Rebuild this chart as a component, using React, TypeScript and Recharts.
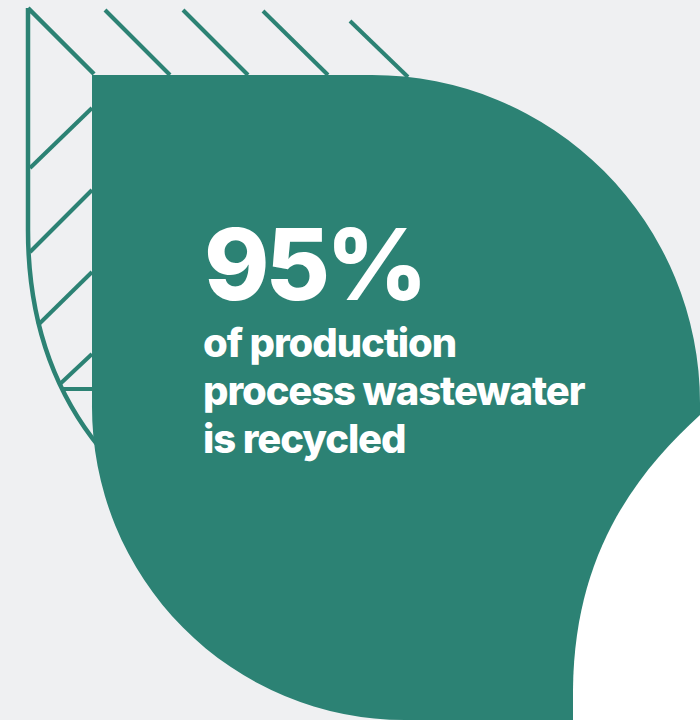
import { ComposedChart, XAxis, YAxis, ReferenceLine, Customized } from "recharts";

const TEAL = "#2c8274";
const BG = "#eff0f2";

// the figure
const headline = { value: 95, unit: "%" };
const captionLines = ["of production", "process wastewater", "is recycled"];

// hatch strokes of the leaf ornament (chart units = pixels, y down)
const hatchStarts = [
  { x: 105, y: 10 }, { x: 183, y: 10 }, { x: 263, y: 11 }, { x: 350, y: 21 },
  { x: 30, y: 168 }, { x: 30, y: 252 }, { x: 38, y: 325 }, { x: 60, y: 384 }, { x: 62, y: 389 },
];
const hatchEnds = [
  { x: 170, y: 75 }, { x: 248, y: 75 }, { x: 328, y: 75 }, { x: 408, y: 77 },
  { x: 92, y: 108 }, { x: 92, y: 190 }, { x: 92, y: 272 }, { x: 92, y: 354 }, { x: 92, y: 389 },
];

const W = 700;
const H = 720;

function Backdrop() {
  return (
    <g>
      <rect x={0} y={0} width={W} height={H} fill={BG} />
      {/* leaf outline */}
      <path
        d="M28,8 V230 Q28,360 100,448 M28,8 L94,74"
        fill="none"
        stroke={TEAL}
        strokeWidth={4.5}
      />
    </g>
  );
}

function Shapes() {
  return (
    <g>
      <path
        d="M92,75 H372 A328,328 0 0 1 700,403 V720 H405 A313,313 0 0 1 92,405 Z"
        fill={TEAL}
      />
      <path d="M700,415 C640,470 574,550 573,690 V720 H700 Z" fill="#ffffff" />
      <text
        x={204}
        y={300}
        fill="#ffffff"
        fontFamily="Inter, sans-serif"
        fontWeight={800}
        fontSize={99}
        letterSpacing={-4}
      >
        {`${headline.value}${headline.unit}`}
      </text>
      {captionLines.map((line, i) => (
        <text
          key={line}
          x={203}
          y={357 + i * 48}
          fill="#ffffff"
          fontFamily="Inter, sans-serif"
          fontWeight={800}
          fontSize={40}
          letterSpacing={-1.1}
        >
          {line}
        </text>
      ))}
    </g>
  );
}

export default function App() {
  return (
    <div style={{ position: "absolute", left: 0, top: 0, width: W, height: H }}>
      <ComposedChart width={W} height={H} data={[]} margin={{ top: 0, right: 0, bottom: 0, left: 0 }}>
        <XAxis type="number" dataKey="x" domain={[0, W]} hide allowDataOverflow />
        <YAxis type="number" domain={[0, H]} reversed hide allowDataOverflow />
        <Customized component={Backdrop} />
        {hatchStarts.map((p, i) => (
          <ReferenceLine
            key={i}
            segment={[p, hatchEnds[i]]}
            stroke={TEAL}
            strokeWidth={4}
            ifOverflow="visible"
          />
        ))}
        <Customized component={Shapes} />
      </ComposedChart>
    </div>
  );
}
